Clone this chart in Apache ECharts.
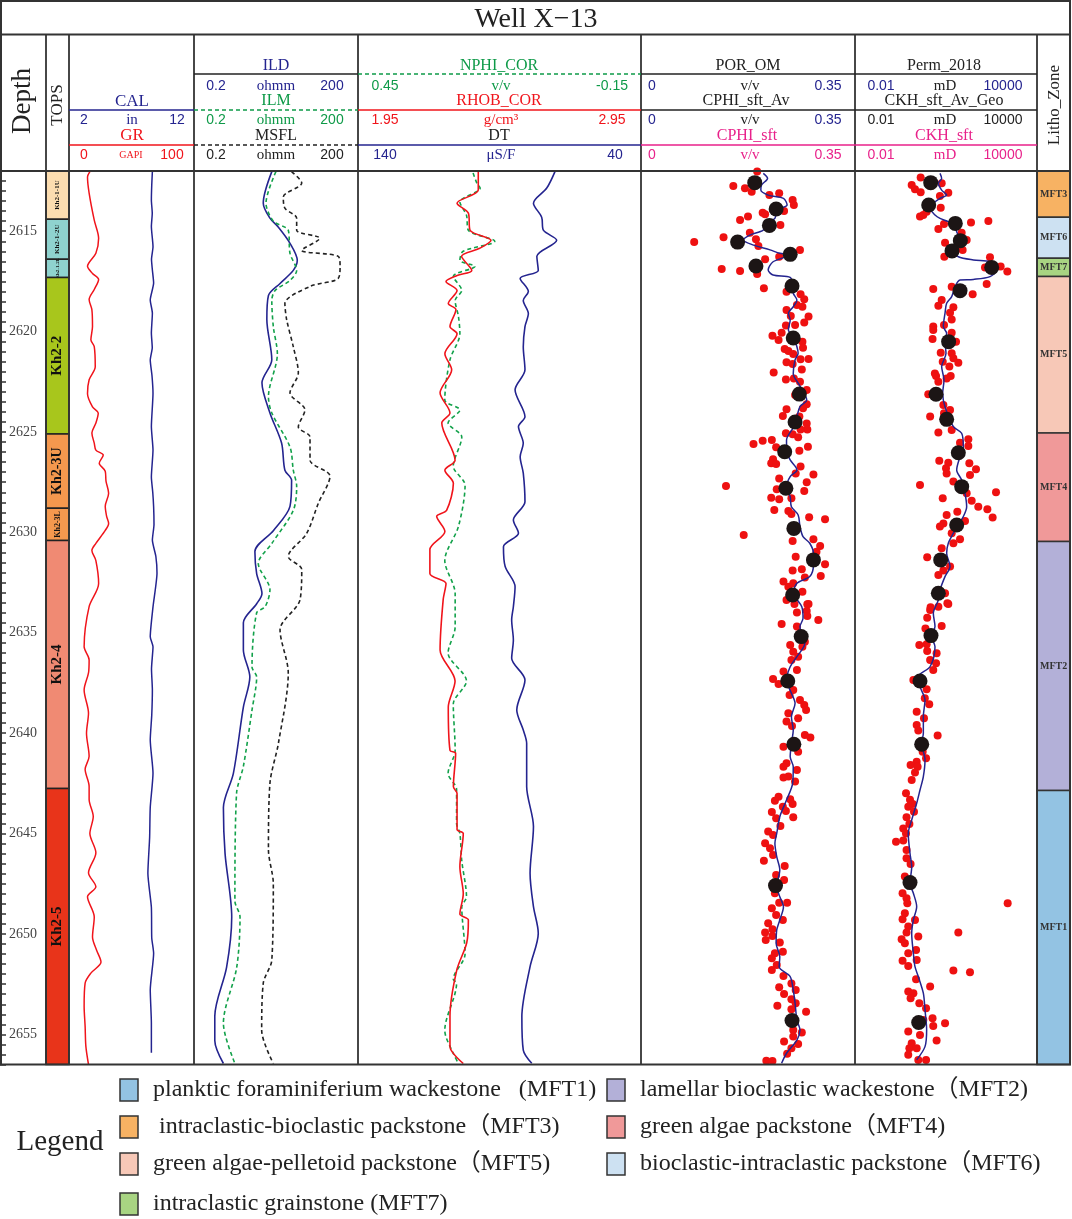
<!DOCTYPE html>
<html><head><meta charset="utf-8">
<script src="https://cdn.jsdelivr.net/npm/echarts@6/dist/echarts.min.js"></script>
<style>html,body{margin:0;padding:0;background:#fff}#c{width:1072px;height:1219px}</style>
</head><body><div id="c"></div>
<script>
// ---------------- DATA ----------------
const DEPTH_MIN = 2612, DEPTH_MAX = 2656.5;

const topsNames = ['Kh2-1-1U','Kh2-1-2U','Kh2-1-2L','Kh2-2','Kh2-3U','Kh2-3L','Kh2-4','Kh2-5'];
const topsTop   = [2612, 2614.4, 2616.4, 2617.3, 2625.1, 2628.8, 2630.4, 2642.75];
const topsBase  = [2614.4, 2616.4, 2617.3, 2625.1, 2628.8, 2630.4, 2642.75, 2656.5];

const lithoNames = ['MFT3','MFT6','MFT7','MFT5','MFT4','MFT2','MFT1'];
const lithoTop   = [2612, 2614.3, 2616.35, 2617.25, 2625.05, 2630.45, 2642.85];
const lithoBase  = [2614.3, 2616.35, 2617.25, 2625.05, 2630.45, 2642.85, 2656.5];

const legendNames = [
  'planktic foraminiferium wackestone   (MFT1)',
  'lamellar bioclastic wackestone\uFF08MFT2)',
  ' intraclastic-bioclastic packstone\uFF08MFT3)',
  'green algae packstone\uFF08MFT4)',
  'green algae-pelletoid packstone\uFF08MFT5)',
  'bioclastic-intraclastic packstone\uFF08MFT6)',
  'intraclastic grainstone (MFT7)'
];
const legendCodes = ['MFT1','MFT2','MFT3','MFT4','MFT5','MFT6','MFT7'];

// [depth, value]
const GR = [[2612.03,16.7],[2612.3,14.8],[2613.1,16.1],[2614.45,20.2],[2615.35,23.7],[2616.1,21.5],[2616.75,14.8],[2617.1,18.8],[2617.4,23.7],[2617.9,20.2],[2618.4,16.1],[2618.9,18.3],[2619.75,18.8],[2620.4,17.5],[2620.75,20.2],[2621.75,21.0],[2622.4,16.1],[2623.1,14.8],[2623.75,18.8],[2624.05,23.4],[2624.55,21.5],[2625.05,18.3],[2625.55,20.2],[2625.9,21.5],[2626.15,27.4],[2626.55,24.2],[2626.95,29.0],[2627.45,29.6],[2628.05,31.7],[2628.7,29.0],[2629.2,30.1],[2629.55,31.7],[2629.9,29.0],[2630.55,21.5],[2630.9,18.3],[2631.4,21.5],[2632.55,23.7],[2633.7,16.1],[2635.7,12.1],[2636.35,16.1],[2637.0,15.6],[2637.85,12.1],[2639.0,15.6],[2640.0,14.0],[2641.15,16.1],[2641.8,12.9],[2642.65,16.1],[2643.3,16.1],[2644.15,19.4],[2645.0,16.7],[2645.95,21.5],[2646.95,15.6],[2647.65,21.5],[2648.15,14.8],[2649.15,20.2],[2650.15,18.8],[2650.8,22.0],[2651.4,25.6],[2651.95,17.5],[2652.45,12.9],[2653.6,12.1],[2654.6,12.9],[2655.6,13.5],[2656.5,15.6]];
const CAL = [[2612.03,8.67],[2612.7,8.62],[2613.44,8.59],[2614.1,8.66],[2614.77,8.59],[2615.77,8.72],[2616.4,8.6],[2616.93,8.67],[2617.58,8.77],[2618.42,8.5],[2619.08,8.67],[2620.07,8.59],[2620.8,8.66],[2621.41,8.5],[2622.2,8.64],[2623.07,8.72],[2624.73,8.59],[2625.9,8.72],[2627.24,8.59],[2628.0,8.7],[2628.72,8.77],[2629.6,8.8],[2630.38,8.67],[2631.2,8.95],[2632.02,9.04],[2633.71,8.72],[2635.2,8.5],[2635.7,8.72],[2636.8,8.6],[2637.85,8.67],[2639.1,8.62],[2640.34,8.5],[2641.99,8.72],[2643.69,8.5],[2645.2,8.45],[2646.98,8.31],[2648.67,8.59],[2650.2,8.62],[2650.96,8.77],[2652.79,8.5],[2654.43,8.59],[2655.92,8.59]];
const ILD = [[2612.03,5.3],[2613.6,3.7],[2614.35,4.9],[2614.8,7.0],[2615.6,11.4],[2616.45,15.5],[2616.95,13.1],[2617.6,7.5],[2618.2,4.6],[2619.4,4.3],[2621.4,5.3],[2622.55,3.5],[2624.05,4.9],[2625.55,8.0],[2626.9,9.2],[2627.4,12.2],[2628.7,11.4],[2629.9,5.7],[2630.95,2.6],[2632.05,2.8],[2633.05,3.5],[2633.55,2.8],[2634.5,1.6],[2635.85,1.6],[2637.2,2.1],[2638.7,1.6],[2642.0,1.05],[2643.7,0.69],[2646.0,0.74],[2649.15,0.98],[2651.65,0.79],[2654.1,0.48],[2655.3,0.48],[2656.45,0.69]];
const ILM = [[2612.03,6.3],[2613.6,4.15],[2614.5,5.65],[2614.95,10.6],[2616.1,11.4],[2616.95,15.1],[2617.45,11.4],[2617.95,6.1],[2618.45,5.3],[2619.75,5.65],[2621.1,6.7],[2623.25,4.6],[2624.05,5.3],[2625.75,11.4],[2626.9,13.1],[2627.7,15.1],[2628.9,13.1],[2630.55,5.3],[2631.55,3.0],[2632.85,4.9],[2633.7,4.0],[2634.0,2.8],[2636.7,2.3],[2637.2,2.8],[2638.85,2.3],[2641.65,1.6],[2643.0,1.2],[2648.35,1.12],[2649.15,1.39],[2651.65,1.21],[2654.45,0.69],[2656.45,1.12]];
const MSFL = [[2612.03,12.2],[2612.6,18.7],[2613.3,8.6],[2613.85,9.2],[2614.35,15.1],[2614.95,15.1],[2615.35,40],[2615.95,18.7],[2616.25,87],[2616.75,94],[2617.35,87],[2617.75,26.5],[2618.6,9.2],[2619.4,9.9],[2620.75,13.1],[2622.05,16.2],[2623.05,11.4],[2623.9,21.4],[2624.75,16.2],[2625.25,26.5],[2626.4,26.5],[2627.2,61.5],[2628.55,37.6],[2630.05,23.0],[2631.2,10.6],[2631.85,18.7],[2633.35,17.4],[2634.85,7.5],[2637.0,10.6],[2640.5,7.0],[2642.5,4.9],[2645.8,4.6],[2647.5,5.65],[2651.3,5.3],[2652.45,3.7],[2654.8,3.46],[2656.45,5.65]];
const NPHI = [[2612.1,0.206],[2612.6,0.198],[2612.85,0.191],[2613.55,0.234],[2614.2,0.22],[2614.95,0.216],[2615.5,0.16],[2616.0,0.227],[2616.45,0.234],[2616.75,0.202],[2617.25,0.248],[2617.95,0.23],[2618.45,0.244],[2619.25,0.237],[2620.1,0.234],[2621.4,0.255],[2623.4,0.266],[2623.9,0.234],[2624.55,0.259],[2625.25,0.23],[2626.7,0.248],[2627.65,0.223],[2629.7,0.237],[2631.4,0.266],[2633.05,0.244],[2634.7,0.244],[2636.0,0.259],[2637.4,0.22],[2638.55,0.248],[2640.85,0.244],[2642.0,0.259],[2642.8,0.241],[2644.5,0.241],[2645.0,0.234],[2646.35,0.23],[2648.15,0.22],[2648.65,0.23],[2651.0,0.223],[2652.25,0.248],[2652.45,0.241],[2654.8,0.266],[2655.95,0.248],[2656.45,0.237]];
const RHOB = [[2612.03,2.375],[2612.95,2.375],[2613.6,2.30],[2614.1,2.34],[2614.95,2.346],[2615.45,2.42],[2615.85,2.38],[2616.25,2.316],[2616.95,2.352],[2617.2,2.30],[2617.5,2.261],[2617.95,2.30],[2618.6,2.269],[2618.9,2.296],[2619.75,2.275],[2620.1,2.30],[2621.1,2.257],[2621.9,2.281],[2623.05,2.24],[2624.05,2.275],[2624.55,2.246],[2626.4,2.293],[2626.9,2.257],[2627.55,2.287],[2628.9,2.263],[2629.2,2.228],[2629.95,2.257],[2630.85,2.204],[2632.05,2.204],[2632.55,2.261],[2633.35,2.251],[2635.85,2.24],[2637.4,2.293],[2638.7,2.269],[2640.85,2.275],[2641.0,2.295],[2642.65,2.287],[2643.0,2.30],[2644.8,2.30],[2645.0,2.322],[2646.65,2.31],[2648.0,2.322],[2649.0,2.31],[2649.3,2.34],[2650.45,2.334],[2651.8,2.299],[2654.1,2.275],[2655.6,2.275],[2656.45,2.322]];
const DT = [[2612.03,70.4],[2612.85,73.3],[2613.6,78.0],[2614.3,75.1],[2614.95,74.5],[2615.45,69.8],[2616.25,76.8],[2616.95,76.3],[2617.35,82.7],[2618.0,79.8],[2618.45,81.6],[2619.1,79.8],[2619.75,81.0],[2620.75,81.6],[2621.9,81.0],[2622.9,84.5],[2624.24,81.0],[2624.73,83.3],[2625.56,81.6],[2626.23,82.7],[2627.05,81.6],[2628.47,81.0],[2629.38,85.1],[2630.04,83.3],[2630.71,88.6],[2631.7,88.0],[2632.7,84.5],[2633.7,85.1],[2634.36,85.7],[2635.36,85.1],[2636.27,85.7],[2637.35,81.0],[2638.84,83.9],[2639.84,81.6],[2640.5,80.4],[2642.66,80.4],[2644.65,78.0],[2646.97,79.2],[2648.64,78.0],[2649.96,76.3],[2651.63,79.2],[2654.12,82.1],[2655.78,81.6],[2656.44,78.6]];

const POR_OM = [[2612.58,0.186],[2613.89,0.221],[2614.71,0.210],[2615.54,0.158],[2616.15,0.244],[2616.73,0.188],[2617.73,0.247],[2620.32,0.249],[2623.11,0.259],[2624.5,0.252],[2625.98,0.235],[2627.8,0.237],[2629.8,0.250],[2631.37,0.282],[2633.12,0.248],[2635.19,0.262],[2637.4,0.240],[2640.55,0.250],[2647.59,0.220],[2654.31,0.247]];
const CPHI_sft_Av = [[2612.12,0.200],[2612.37,0.207],[2612.7,0.197],[2612.95,0.196],[2613.2,0.208],[2613.36,0.233],[2613.69,0.239],[2613.94,0.222],[2614.36,0.219],[2614.61,0.205],[2614.94,0.200],[2615.19,0.178],[2615.44,0.167],[2615.69,0.184],[2615.93,0.211],[2616.1,0.227],[2616.18,0.243],[2616.52,0.216],[2616.93,0.208],[2617.18,0.216],[2617.3,0.244],[2617.68,0.248],[2618.09,0.249],[2618.42,0.255],[2618.76,0.249],[2619.09,0.241],[2619.42,0.244],[2619.92,0.241],[2620.25,0.249],[2620.75,0.255],[2621.08,0.257],[2621.41,0.252],[2622.08,0.249],[2622.57,0.257],[2623.07,0.267],[2623.4,0.271],[2623.74,0.260],[2624.23,0.255],[2624.73,0.250],[2625.4,0.238],[2625.89,0.238],[2626.39,0.244],[2626.89,0.255],[2627.22,0.244],[2627.72,0.238],[2628.22,0.244],[2628.72,0.246],[2629.13,0.257],[2629.71,0.260],[2630.21,0.265],[2630.54,0.276],[2631.04,0.282],[2631.62,0.282],[2632.2,0.276],[2632.53,0.255],[2633.03,0.250],[2633.7,0.263],[2634.28,0.265],[2634.69,0.260],[2635.19,0.263],[2635.52,0.268],[2636.19,0.255],[2636.69,0.244],[2637.35,0.238],[2638.01,0.246],[2638.51,0.252],[2639.18,0.246],[2639.84,0.249],[2640.5,0.246],[2641.17,0.244],[2641.67,0.249],[2642.5,0.248],[2643.33,0.238],[2644.16,0.227],[2644.99,0.222],[2645.48,0.219],[2646.15,0.222],[2646.81,0.227],[2647.64,0.222],[2648.14,0.227],[2648.64,0.233],[2649.3,0.227],[2649.8,0.222],[2650.46,0.221],[2651.13,0.227],[2651.63,0.226],[2652.12,0.244],[2652.79,0.249],[2653.45,0.252],[2654.28,0.255],[2654.78,0.260],[2655.28,0.255],[2655.94,0.238],[2656.44,0.230]];
const CPHI_sft = [[2612.03,0.190],[2612.75,0.151],[2612.86,0.170],[2613.03,0.181],[2613.2,0.210],[2613.11,0.226],[2613.44,0.248],[2613.69,0.250],[2613.99,0.234],[2614.08,0.199],[2614.27,0.175],[2614.44,0.162],[2614.16,0.203],[2614.69,0.228],[2615.3,0.135],[2615.54,0.087],[2615.07,0.178],[2615.4,0.188],[2615.74,0.192],[2615.93,0.260],[2616.27,0.226],[2616.4,0.203],[2616.88,0.132],[2616.98,0.162],[2617.13,0.190],[2617.84,0.201],[2618.01,0.238],[2618.14,0.261],[2618.39,0.267],[2618.67,0.255],[2618.76,0.264],[2618.92,0.238],[2619.25,0.274],[2619.22,0.245],[2619.54,0.267],[2619.67,0.252],[2619.7,0.237],[2620.05,0.230],[2620.2,0.215],[2620.42,0.225],[2620.5,0.264],[2620.86,0.235],[2620.96,0.241],[2621.11,0.249],[2620.8,0.265],[2621.36,0.274],[2621.38,0.261],[2621.53,0.238],[2621.61,0.248],[2621.88,0.263],[2622.04,0.217],[2622.38,0.237],[2622.33,0.250],[2622.49,0.260],[2622.91,0.271],[2623.16,0.252],[2623.62,0.271],[2623.82,0.265],[2623.87,0.238],[2624.2,0.232],[2624.23,0.259],[2624.57,0.271],[2624.87,0.272],[2624.87,0.261],[2625.06,0.237],[2625.11,0.248],[2625.26,0.257],[2625.6,0.184],[2625.43,0.199],[2625.4,0.214],[2625.76,0.221],[2625.93,0.259],[2625.73,0.273],[2626.36,0.216],[2626.56,0.213],[2626.59,0.221],[2626.72,0.261],[2627.06,0.253],[2627.11,0.282],[2627.31,0.226],[2627.5,0.271],[2627.69,0.139],[2627.85,0.222],[2627.94,0.267],[2628.27,0.213],[2628.35,0.226],[2628.3,0.246],[2628.88,0.218],[2628.93,0.241],[2629.08,0.246],[2629.25,0.275],[2629.35,0.301],[2630.13,0.168],[2630.43,0.248],[2630.34,0.282],[2630.68,0.293],[2631.21,0.253],[2630.96,0.287],[2631.59,0.301],[2631.9,0.248],[2631.84,0.263],[2632.17,0.294],[2632.25,0.268],[2632.45,0.233],[2632.7,0.241],[2632.53,0.249],[2632.95,0.264],[2633.36,0.238],[2633.58,0.272],
[2633.56,0.251],[2633.56,0.274],[2633.99,0.255],[2633.91,0.271],[2634.16,0.272],[2634.36,0.290],[2634.56,0.230],[2634.69,0.255],[2635.44,0.268],[2635.61,0.244],[2635.69,0.264],[2635.94,0.249],[2636.19,0.257],[2636.35,0.246],[2636.85,0.255],[2636.93,0.233],[2637.3,0.216],[2637.55,0.225],[2637.85,0.249],[2638.1,0.243],[2638.35,0.260],[2638.59,0.267],[2638.84,0.270],[2639.01,0.241],[2639.42,0.238],[2639.26,0.257],[2639.64,0.247],[2640.09,0.268],[2640.22,0.277],[2640.67,0.233],[2640.92,0.257],[2641.5,0.238],[2641.67,0.233],[2641.83,0.255],[2642.16,0.241],[2642.21,0.233],[2642.41,0.252],[2643.16,0.225],[2643.37,0.219],[2643.29,0.244],[2643.52,0.248],[2643.66,0.232],[2643.87,0.237],[2643.92,0.214],[2644.24,0.221],[2644.19,0.249],[2644.62,0.228],[2644.9,0.208],[2645.07,0.216],[2645.48,0.203],[2645.73,0.211],[2646.06,0.216],[2646.35,0.201],[2646.61,0.235],[2647.06,0.221],[2647.31,0.234],[2647.97,0.219],[2648.44,0.226],[2648.44,0.239],[2648.72,0.214],[2649.05,0.221],[2649.3,0.232],[2649.47,0.208],[2649.77,0.215],[2649.93,0.203],[2650.1,0.215],[2650.3,0.204],[2650.43,0.227],[2650.88,0.232],[2650.96,0.219],[2651.21,0.214],[2651.54,0.222],[2651.79,0.214],[2652.09,0.233],[2652.46,0.246],[2652.79,0.253],[2652.65,0.226],[2652.99,0.234],[2653.25,0.246],[2653.58,0.223],[2653.45,0.253],[2653.87,0.270],[2653.75,0.246],[2654.78,0.249],[2654.91,0.263],[2655.11,0.249],[2655.36,0.234],[2655.48,0.257],[2655.69,0.246],[2655.97,0.239],[2656.31,0.205],[2656.32,0.215]];

const Perm_2018 = [[2612.58,3.13],[2613.69,2.69],[2614.61,20.3],[2615.47,29.7],[2615.98,15.8],[2616.8,321],[2617.96,29.0],[2620.5,12.2],[2623.12,4.69],[2624.37,10.5],[2626.03,25.5],[2627.72,32.9],[2629.63,22.5],[2631.37,6.68],[2633.03,5.59],[2635.14,3.2],[2637.4,1.39],[2640.55,1.58],[2647.44,0.65],[2654.41,1.26]];
const CKH_sft_Av_Geo = [[2612.12,6.34],[2612.37,7.19],[2612.61,5.59],[2612.95,7.19],[2613.2,10.5],[2613.36,6.34],[2613.61,3.82],[2613.86,2.97],[2614.19,4.34],[2614.36,6.34],[2614.52,11.9],[2614.69,19.8],[2615.02,22.5],[2615.44,29.0],[2615.77,22.5],[2616.02,19.8],[2616.27,25.5],[2616.43,79.6],[2616.52,282],[2616.68,363],[2616.93,468],[2617.26,282],[2617.4,79.6],[2617.43,29.0],[2617.76,19.8],[2618.26,15.4],[2618.59,10.5],[2619.09,9.27],[2619.75,8.17],[2620.08,10.5],[2620.5,9.27],[2621.08,10.0],[2621.74,7.19],[2622.41,8.59],[2623.07,7.76],[2623.74,9.27],[2624.73,17.5],[2625.06,32.8],[2625.73,37.3],[2626.23,29.0],[2626.89,22.5],[2627.39,32.8],[2628.05,42.3],[2628.72,48],[2629.21,37.3],[2629.63,25.5],[2630.04,17.5],[2630.54,11.9],[2631.04,10.5],[2631.7,13.6],[2632.2,9.27],[2632.87,6.34],[2633.37,5.59],[2634.03,3.82],[2634.69,4.34],[2635.19,3.37],[2635.69,4.34],[2636.69,2.97],[2637.18,1.22],[2637.68,1.39],[2638.35,2.03],[2639.18,1.79],[2640.0,1.79],[2640.5,1.58],[2641.33,2.03],[2642.16,1.79],[2642.83,1.39],[2643.49,1.08],[2644.32,0.74],[2644.99,0.57],[2645.98,0.65],[2646.65,0.74],[2647.48,0.65],[2647.97,0.84],[2648.64,1.08],[2649.3,0.84],[2649.97,0.74],[2650.96,0.84],[2651.63,0.95],[2652.12,1.22],[2652.95,1.79],[2653.78,2.03],[2654.78,2.3],[2655.61,2.03],[2656.27,1.08]];
const CKH_sft = [[2612.32,1.46],[2612.7,0.74],[2612.91,0.95],[2613.06,1.46],[2612.61,7.2],[2613.08,11.9],[2613.25,6.3],[2613.83,6.7],[2614.03,2.3],[2614.27,1.39],[2614.19,1.79],[2614.64,8.6],[2614.57,66.7],[2614.49,249],[2614.89,5.6],[2615.07,32.8],[2615.44,48],[2615.57,9.3],[2615.93,35.4],[2616.27,8.8],[2616.3,282],[2616.8,193],[2616.76,634],[2617.01,1052],[2617.63,219],[2617.88,3.8],[2617.76,15.4],[2618.14,75.7],[2618.42,7.2],[2618.71,5.6],[2618.79,17.5],[2619.06,13.6],[2619.39,15.4],[2619.75,3.8],[2619.67,8.6],[2619.92,3.8],[2620.05,15.4],[2620.37,3.6],[2620.5,21.4],[2621.05,6.7],[2621.08,15.4],[2621.33,17.5],[2621.55,25.5],[2621.5,7.8],[2621.74,12.9],[2622.08,4.3],[2622.21,4.7],[2622.21,14.3],[2622.33,10.5],[2622.49,5.6],[2623.12,2.6],[2623.65,8.2],[2623.9,13.6],[2624.23,3.0],[2624.07,8.6],[2625.03,5.6],[2624.9,15.4],[2625.36,54.5],[2625.53,29],[2625.7,54.5],[2626.43,6.0],[2626.53,11.9],[2626.56,58.8],[2626.81,10],[2627.06,10.5],[2626.86,97.5],[2627.14,61.8],[2627.47,17.5],[2628.05,48],[2627.64,1.39],[2628.3,7.8],[2628.42,70.2],[2628.72,116],[2628.0,445],[2628.85,231],[2629.26,345],[2629.13,10.5],[2628.97,23.6],[2629.55,8.2],[2629.71,6.3],[2629.43,42.3],[2630.04,15.4],[2630.34,29],[2630.54,17.5],[2630.79,7.2],[2631.24,2.4],[2631.7,13.6],[2631.9,8.2],[2632.12,5.6],[2633.03,9.3],[2633.53,11.1],[2633.73,3.1],
[2633.56,11.9],[2633.7,5.6],[2633.86,3.0],[2634.25,2.4],[2634.66,7.2],[2634.78,2.1],[2635.61,1.32],[2635.57,2.3],[2635.9,2.4],[2636.02,4.9],[2636.35,3.0],[2636.52,4.7],[2636.85,3.8],[2637.35,0.84],[2637.81,2.3],[2638.26,2.0],[2638.56,2.8],[2638.93,1.08],[2639.26,1.88],[2639.59,1.08],[2639.87,1.22],[2640.12,5.3],[2640.92,1.7],[2641.25,2.2],[2641.42,1.08],[2641.58,0.68],[2641.67,1.16],[2641.96,0.95],[2642.33,0.74],[2642.99,0.48],[2643.32,0.65],[2643.52,0.80],[2643.66,0.57],[2643.91,0.88],[2644.19,0.50],[2644.52,0.62],[2644.74,0.39],[2644.99,0.48],[2645.4,0.225],[2645.35,0.39],[2645.82,0.50],[2646.23,0.50],[2646.51,0.68],[2647.14,0.44],[2647.97,0.37],[2648.22,0.50],[2648.47,0.53],[2648.47,1079],[2648.97,0.44],[2649.27,0.37],[2649.63,0.57],[2649.3,0.95],[2649.93,0.50],[2649.93,25.5],[2650.13,1.22],[2650.26,0.345],[2650.46,0.44],[2650.8,1.03],[2650.96,0.57],[2651.33,0.37],[2651.29,1.08],[2651.59,0.57],[2651.82,17.5],[2651.91,61.8],[2652.26,1.03],[2652.62,3.0],[2652.87,0.57],[2652.95,0.84],[2653.2,0.68],[2653.45,1.32],[2653.7,2.2],[2654.2,3.6],[2654.28,1.79],[2654.45,9.3],[2654.58,3.8],[2654.86,0.57],[2655.03,1.39],[2655.31,4.9],[2655.44,0.74],[2655.69,0.62],[2655.69,1.08],[2656.27,2.2],[2656.27,1.22],[2656.02,0.57]];

// ---------------- STYLE / LAYOUT ----------------
const NAVY = '#24248F', GREEN = '#0E9A48', RED = '#F0141B', PINK = '#E8218A', BLACK = '#222', FRAME = '#333';
const SERIF = '"Liberation Serif", "DejaVu Serif", serif';
const SANS = '"Liberation Sans", Arial, sans-serif';
const topsColors = ['#FCDDB0','#8FD3CF','#8FD3CF','#A8C61C','#F4984E','#F4984E','#F08A73','#E8341A'];
const topsFontSize = [7, 7, 5, 15, 14, 8, 15, 15];
const lithoColors = {MFT1:'#93C3E3', MFT2:'#B3B0D8', MFT3:'#F7B263', MFT4:'#F09999', MFT5:'#F7C8B7', MFT6:'#CDE1F2', MFT7:'#A8D482'};

const TOP = 171, H = 893.5;
const gridsX = [[1,45],[46,23],[69,125],[194,164],[358,283],[641,214],[855,182],[1037,33]];
const grid = gridsX.map(g => ({left: g[0], width: g[1], top: TOP, height: H, show: false}));

const yAx = gridsX.map((g, i) => ({gridIndex: i, type: 'value', min: DEPTH_MIN, max: DEPTH_MAX, inverse: true, show: false}));
// depth labels/ticks (right side of depth column)
yAx[0] = {gridIndex: 0, type: 'value', min: DEPTH_MIN, max: DEPTH_MAX, inverse: true, interval: 0.5, position: 'right',
  axisLine: {show: true, lineStyle: {color: FRAME, width: 1.5}},
  axisTick: {show: true, inside: true, length: 5, lineStyle: {color: FRAME, width: 1.5}},
  axisLabel: {inside: true, margin: 9, color: '#444', fontFamily: SERIF, fontSize: 14,
    formatter: v => (Math.abs(v % 5) < 1e-6 ? String(Math.round(v)) : '')},
  splitLine: {show: false}};
yAx.push({gridIndex: 0, type: 'value', min: DEPTH_MIN, max: DEPTH_MAX, inverse: true, interval: 0.5, position: 'left',
  axisLine: {show: false}, axisTick: {show: true, inside: true, length: 5, lineStyle: {color: FRAME, width: 1.5}},
  axisLabel: {show: false}, splitLine: {show: false}});

const xAx = [
  {gridIndex: 0, type: 'value', min: 0, max: 1, show: false},
  {gridIndex: 1, type: 'value', min: 0, max: 1, show: false},
  {gridIndex: 2, type: 'value', min: 0, max: 100, show: false},      // 2 GR
  {gridIndex: 2, type: 'value', min: 2, max: 12, show: false},       // 3 CAL
  {gridIndex: 3, type: 'log', logBase: 10, min: 0.2, max: 200, show: false}, // 4 RES
  {gridIndex: 4, type: 'value', min: -0.15, max: 0.45, inverse: true, show: false}, // 5 NPHI
  {gridIndex: 4, type: 'value', min: 1.95, max: 2.95, show: false},  // 6 RHOB
  {gridIndex: 4, type: 'value', min: 40, max: 140, inverse: true, show: false}, // 7 DT
  {gridIndex: 5, type: 'value', min: 0, max: 0.35, show: false},     // 8 POR
  {gridIndex: 6, type: 'log', logBase: 10, min: 0.01, max: 10000, show: false}, // 9 PERM
  {gridIndex: 7, type: 'value', min: 0, max: 1, show: false}         // 10 litho
];

const sw = arr => arr.map(p => [p[1], p[0]]);
function curve(name, data, xi, yi, color, width, dash, smooth) {
  return {name, type: 'line', xAxisIndex: xi, yAxisIndex: yi, data: sw(data), showSymbol: false, symbol: 'none',
    smooth: smooth === undefined ? 0.3 : smooth, lineStyle: {color, width, type: dash || 'solid'}, z: 3, silent: true};
}
function dots(name, data, xi, yi, color, size, z) {
  return {name, type: 'scatter', xAxisIndex: xi, yAxisIndex: yi, data: sw(data), symbolSize: size,
    itemStyle: {color, opacity: 1}, z, silent: true};
}

const topsSeries = {
  type: 'custom', xAxisIndex: 1, yAxisIndex: 1, silent: true, z: 2,
  data: topsNames.map((n, i) => [i, topsTop[i], topsBase[i]]),
  renderItem(params, api) {
    const i = api.value(0);
    const a = api.coord([0, api.value(1)]), b = api.coord([1, api.value(2)]);
    return {type: 'group', children: [
      {type: 'rect', shape: {x: a[0], y: a[1], width: b[0] - a[0], height: b[1] - a[1]},
       style: {fill: topsColors[i], stroke: '#222', lineWidth: 1.5}},
      {type: 'text', x: (a[0] + b[0]) / 2, y: (a[1] + b[1]) / 2, rotation: Math.PI / 2,
       style: {text: topsNames[i], fill: '#111', font: 'bold ' + topsFontSize[i] + 'px ' + SERIF,
         align: 'center', verticalAlign: 'middle', textAlign: 'center', textVerticalAlign: 'middle'}}
    ]};
  }
};
const lithoSeries = {
  type: 'custom', xAxisIndex: 10, yAxisIndex: 7, silent: true, z: 2,
  data: lithoNames.map((n, i) => [i, lithoTop[i], lithoBase[i]]),
  renderItem(params, api) {
    const i = api.value(0);
    const a = api.coord([0, api.value(1)]), b = api.coord([1, api.value(2)]);
    return {type: 'group', children: [
      {type: 'rect', shape: {x: a[0], y: a[1], width: b[0] - a[0], height: b[1] - a[1]},
       style: {fill: lithoColors[lithoNames[i]], stroke: '#333', lineWidth: 1.5}},
      {type: 'text', x: a[0] + 3, y: (a[1] + b[1]) / 2,
       style: {text: lithoNames[i], fill: '#333', font: 'bold 10px ' + SERIF,
         align: 'left', verticalAlign: 'middle', textAlign: 'left', textVerticalAlign: 'middle'}}
    ]};
  }
};

const series = [
  topsSeries, lithoSeries,
  curve('GR', GR, 2, 2, RED, 1.5),
  curve('CAL', CAL, 3, 2, NAVY, 1.5, 'solid', 0.2),
  curve('ILD', ILD, 4, 3, NAVY, 1.6),
  curve('ILM', ILM, 4, 3, '#12A14A', 1.6, [4, 3]),
  curve('MSFL', MSFL, 4, 3, '#222', 1.6, [4, 3]),
  curve('NPHI_COR', NPHI, 5, 4, '#12A14A', 1.6, [4, 3]),
  curve('RHOB_COR', RHOB, 6, 4, RED, 1.6),
  curve('DT', DT, 7, 4, NAVY, 1.6),
  dots('CPHI_sft', CPHI_sft, 8, 5, '#EE1111', 8, 2),
  curve('CPHI_sft_Av', CPHI_sft_Av, 8, 5, NAVY, 1.5),
  dots('POR_OM', POR_OM, 8, 5, '#1C1515', 15, 4),
  dots('CKH_sft', CKH_sft, 9, 6, '#EE1111', 8, 2),
  curve('CKH_sft_Av_Geo', CKH_sft_Av_Geo, 9, 6, NAVY, 1.5),
  dots('Perm_2018', Perm_2018, 9, 6, '#1C1515', 15, 4)
];

// ---------------- HEADER / FRAME GRAPHICS ----------------
const g = [];
function txt(t, x, y, color, font, rot) {
  g.push({type: 'text', x, y, rotation: rot || 0, z: 100, silent: true,
    style: {text: t, fill: color, font, align: 'center', verticalAlign: 'middle', textAlign: 'center', textVerticalAlign: 'middle'}});
}
function ln(x1, y1, x2, y2, color, w, dash) {
  g.push({type: 'line', z: 100, silent: true, shape: {x1, y1, x2, y2},
    style: {stroke: color, lineWidth: w, lineDash: dash || null}});
}
const NAME = '16px ' + SERIF, NUM = '14px ' + SANS, UNIT = '15px ' + SERIF;
const DASH = [4, 3];

// frame
g.push({type: 'rect', z: 100, silent: true, shape: {x: 1, y: 1, width: 1069, height: 1063.5}, style: {fill: null, stroke: FRAME, lineWidth: 2}});
ln(1, 34.5, 1070, 34.5, FRAME, 1.8);
ln(1, 171, 1070, 171, FRAME, 1.8);
[46, 69, 194, 358, 641, 855, 1037].forEach(x => ln(x, 34.5, x, 1064.5, FRAME, 1.8));

txt('Well X\u221213', 536, 20, '#222', '28px ' + SERIF);
txt('Depth', 23, 101, '#222', '27px ' + SERIF, Math.PI / 2);
txt('TOPS', 58, 105, '#222', '17px ' + SERIF, Math.PI / 2);
txt('Litho_Zone', 1055, 105, '#222', '17px ' + SERIF, Math.PI / 2);

// track 1
ln(69, 110, 194, 110, NAVY, 1.5); ln(69, 145, 194, 145, RED, 1.5);
txt('CAL', 132, 102, NAVY, '17px ' + SERIF); txt('2', 84, 120, NAVY, NUM); txt('in', 132, 120, NAVY, UNIT); txt('12', 177, 120, NAVY, NUM);
txt('GR', 132, 136, RED, '17px ' + SERIF); txt('0', 84, 155, RED, NUM); txt('GAPI', 131, 155, RED, '10px ' + SERIF); txt('100', 172, 155, RED, NUM);
// track 2
ln(194, 74, 358, 74, BLACK, 1.3); ln(194, 110, 358, 110, GREEN, 1.5, DASH); ln(194, 145, 358, 145, BLACK, 1.5, DASH);
txt('ILD', 276, 66, NAVY, NAME); txt('0.2', 216, 86, NAVY, NUM); txt('ohmm', 276, 86, NAVY, UNIT); txt('200', 332, 86, NAVY, NUM);
txt('ILM', 276, 101, GREEN, NAME); txt('0.2', 216, 120, GREEN, NUM); txt('ohmm', 276, 120, GREEN, UNIT); txt('200', 332, 120, GREEN, NUM);
txt('MSFL', 276, 136, BLACK, NAME); txt('0.2', 216, 155, BLACK, NUM); txt('ohmm', 276, 155, BLACK, UNIT); txt('200', 332, 155, BLACK, NUM);
// track 3
ln(358, 74, 641, 74, GREEN, 1.5, DASH); ln(358, 110, 641, 110, RED, 1.5); ln(358, 145, 641, 145, NAVY, 1.5);
txt('NPHI_COR', 499, 66, GREEN, NAME); txt('0.45', 385, 86, GREEN, NUM); txt('v/v', 501, 86, GREEN, UNIT); txt('-0.15', 612, 86, GREEN, NUM);
txt('RHOB_COR', 499, 101, RED, NAME); txt('1.95', 385, 120, RED, NUM); txt('g/cm\u00B3', 501, 120, RED, UNIT); txt('2.95', 612, 120, RED, NUM);
txt('DT', 499, 136, BLACK, NAME); txt('140', 385, 155, NAVY, NUM); txt('\u03BCS/F', 501, 155, NAVY, UNIT); txt('40', 615, 155, NAVY, NUM);
// track 4
ln(641, 74, 855, 74, BLACK, 1.3); ln(641, 110, 855, 110, BLACK, 1.3); ln(641, 145, 855, 145, PINK, 1.5);
txt('POR_OM', 748, 66, BLACK, NAME); txt('0', 652, 86, NAVY, NUM); txt('v/v', 750, 86, BLACK, UNIT); txt('0.35', 828, 86, NAVY, NUM);
txt('CPHI_sft_Av', 746, 101, BLACK, NAME); txt('0', 652, 120, NAVY, NUM); txt('v/v', 750, 120, BLACK, UNIT); txt('0.35', 828, 120, NAVY, NUM);
txt('CPHI_sft', 747, 136, PINK, NAME); txt('0', 652, 155, PINK, NUM); txt('v/v', 750, 155, PINK, UNIT); txt('0.35', 828, 155, PINK, NUM);
// track 5
ln(855, 74, 1037, 74, BLACK, 1.3); ln(855, 110, 1037, 110, BLACK, 1.3); ln(855, 145, 1037, 145, PINK, 1.5);
txt('Perm_2018', 944, 66, BLACK, NAME); txt('0.01', 881, 86, NAVY, NUM); txt('mD', 945, 86, BLACK, UNIT); txt('10000', 1003, 86, NAVY, NUM);
txt('CKH_sft_Av_Geo', 944, 101, BLACK, NAME); txt('0.01', 881, 120, BLACK, NUM); txt('mD', 945, 120, BLACK, UNIT); txt('10000', 1003, 120, BLACK, NUM);
txt('CKH_sft', 944, 136, PINK, NAME); txt('0.01', 881, 155, PINK, NUM); txt('mD', 945, 155, PINK, UNIT); txt('10000', 1003, 155, PINK, NUM);

// legend
txt('Legend', 60, 1142, '#222', '29px ' + SERIF);
const legPos = [[120, 1090], [607, 1090], [120, 1127], [607, 1127], [120, 1164], [607, 1164], [120, 1204]];
legendNames.forEach((t, i) => {
  const p = legPos[i];
  g.push({type: 'rect', z: 100, silent: true, shape: {x: p[0], y: p[1] - 11, width: 18, height: 22},
    style: {fill: lithoColors[legendCodes[i]], stroke: '#333', lineWidth: 1.5}});
  g.push({type: 'text', z: 100, silent: true, x: p[0] + 33, y: p[1],
    style: {text: t, fill: '#222', font: '24px ' + SERIF + ', "Noto Sans CJK SC"', align: 'left', verticalAlign: 'middle', textAlign: 'left', textVerticalAlign: 'middle'}});
});

const chart = echarts.init(document.getElementById('c'), null, {renderer: 'canvas'});
chart.setOption({
  animation: false, backgroundColor: '#fff',
  grid, xAxis: xAx, yAxis: yAx, series, graphic: {elements: g}
});
</script></body></html>
